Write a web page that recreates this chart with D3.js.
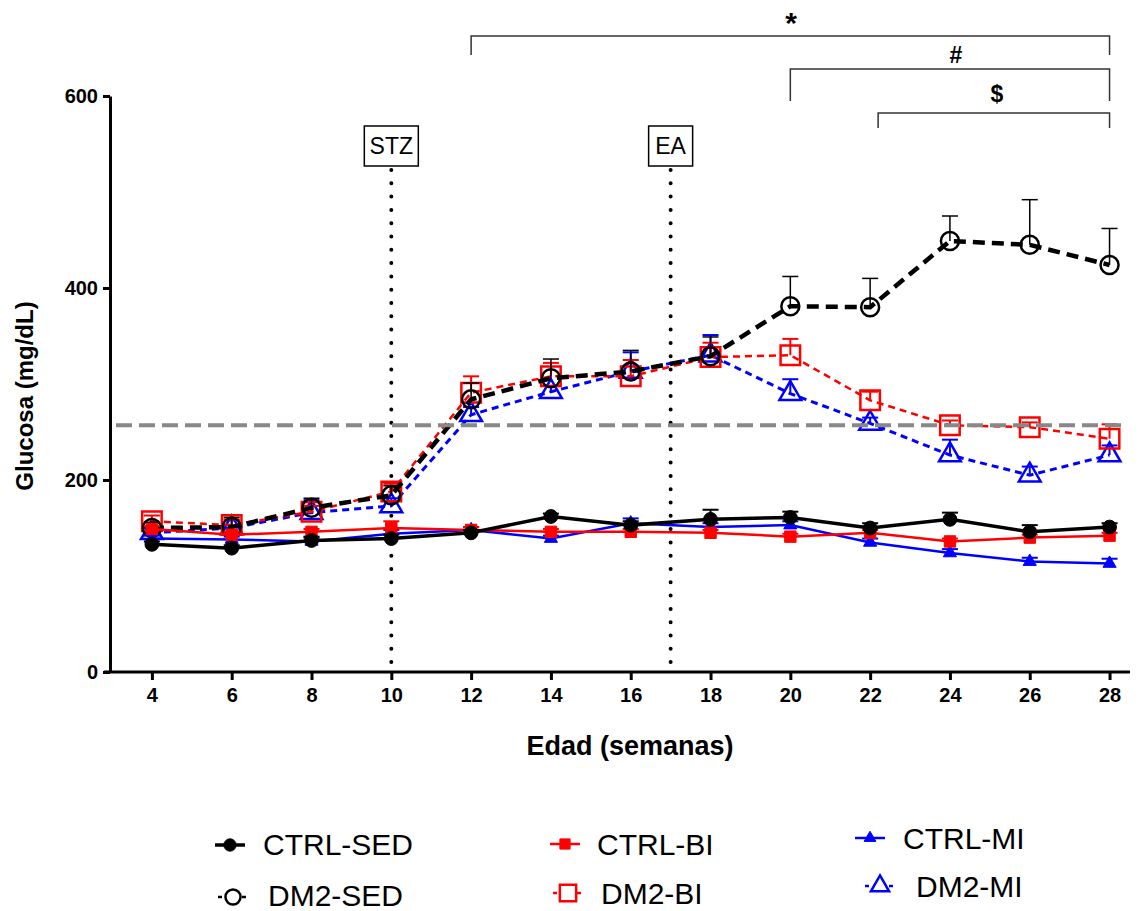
<!DOCTYPE html>
<html>
<head>
<meta charset="utf-8">
<script src="https://cdn.jsdelivr.net/npm/d3@7"></script>
<style>
  body { margin: 0; background: #fff; }
  svg text { font-family: Arial, "Liberation Sans", sans-serif; }
</style>
</head>
<body>
<div id="chart"></div>
<script>
var width = 1141,
    height = 911;

// data (glucose mg/dL, mean and upper error)
var weeks = [4, 6, 8, 10, 12, 14, 16, 18, 20, 22, 24, 26, 28];

var ctrlSed    = [133, 129, 137, 139, 145, 162, 153, 159, 161, 150, 159, 146, 151];
var ctrlSedErr = [3, 3, 4, 4, 3, 3, 4, 10, 6, 5, 7, 7, 4];
var ctrlBi     = [149, 143, 146, 150, 148, 146, 146, 145, 141, 145, 136, 140, 142];
var ctrlBiErr  = [3, 3, 3, 7, 3, 3, 3, 3, 3, 3, 3, 3, 3];
var ctrlMi     = [139, 138, 136, 144, 148, 139, 155, 151, 153, 135, 124, 115, 113];
var ctrlMiErr  = [3, 3, 4, 4, 3, 3, 5, 4, 4, 4, 4, 4, 5];

var dm2Sed    = [150, 151, 171, 184, 284, 306, 313, 329, 381, 380, 449, 445, 424];
var dm2SedErr = [6, 10, 10, 10, 17, 20, 22, 20, 31, 30, 26, 47, 38];
var dm2Bi     = [157, 153, 167, 188, 291, 308, 308, 328, 330, 283, 257, 255, 243];
var dm2BiErr  = [6, 6, 6, 8, 17, 14, 17, 15, 17, 9, 5, 5, 15];
var dm2Mi     = [145, 150, 166, 173, 268, 292, 313, 330, 290, 259, 226, 205, 226];
var dm2MiErr  = [5, 8, 13, 8, 8, 6, 20, 21, 15, 6, 16, 9, 10];

var yTicks = [0, 200, 400, 600];
var threshold = 257;

var eventWeeks = [10, 17];
var eventLabels = ["STZ", "EA"];

var bracketStart = [12, 20, 22.2];
var bracketEnd = [28, 28, 28];
var bracketLabels = ["*", "#", "$"];

var seriesNames = ["DM2-MI", "DM2-BI", "DM2-SED", "CTRL-MI", "CTRL-BI", "CTRL-SED"];

var svg = d3.select("#chart").append("svg")
    .attr("width", width)
    .attr("height", height);

var x = d3.scaleLinear().domain([2.95, 28.5]).range([110, 1129.5]);
var y = d3.scaleLinear().domain([0, 600]).range([672, 96]);

// style per series
var styles = {
    "CTRL-SED": { vals: ctrlSed, err: ctrlSedErr, color: "#000", dash: null, lw: 3.5, sym: d3.symbolCircle, size: 150, fill: true, ew: 2 },
    "CTRL-BI":  { vals: ctrlBi, err: ctrlBiErr, color: "#ff0000", dash: null, lw: 2.5, sym: d3.symbolSquare, size: 130, fill: true, ew: 2 },
    "CTRL-MI":  { vals: ctrlMi, err: ctrlMiErr, color: "#0000ff", dash: null, lw: 2.5, sym: d3.symbolTriangle, size: 75, fill: true, ew: 2 },
    "DM2-SED":  { vals: dm2Sed, err: dm2SedErr, color: "#000", dash: "12,7", lw: 4.5, sym: d3.symbolCircle, size: 254, fill: false, ew: 1.5 },
    "DM2-BI":   { vals: dm2Bi, err: dm2BiErr, color: "#ff0000", dash: "7,5", lw: 2.5, sym: d3.symbolSquare, size: 380, fill: false, ew: 2 },
    "DM2-MI":   { vals: dm2Mi, err: dm2MiErr, color: "#0000ff", dash: "7,5", lw: 3, sym: d3.symbolTriangle, size: 205, fill: false, ew: 2 }
};

// event lines with boxed labels
eventWeeks.forEach(function (w, i) {
    svg.append("line")
        .attr("x1", x(w)).attr("x2", x(w))
        .attr("y1", 170).attr("y2", 672)
        .attr("stroke", "#000")
        .attr("stroke-width", 4)
        .attr("stroke-linecap", "round")
        .attr("stroke-dasharray", "0,13.3");
    var bw = i == 0 ? 54 : 44;
    svg.append("rect")
        .attr("x", x(w) - bw / 2).attr("y", 126)
        .attr("width", bw).attr("height", 40)
        .attr("fill", "#fff").attr("stroke", "#000").attr("stroke-width", 1.5);
    svg.append("text")
        .attr("x", x(w)).attr("y", 154)
        .attr("text-anchor", "middle")
        .style("font-size", "23px")
        .text(eventLabels[i]);
});

var line = d3.line()
    .x(function (d, i) { return x(weeks[i]); })
    .y(function (d) { return y(d); });

seriesNames.forEach(function (name) {
    var s = styles[name];
    var g = svg.append("g");

    // upper error bars
    s.vals.forEach(function (v, i) {
        var xx = x(weeks[i]);
        g.append("line")
            .attr("x1", xx).attr("x2", xx)
            .attr("y1", y(v)).attr("y2", y(v + s.err[i]))
            .attr("stroke", s.color).attr("stroke-width", s.ew);
        g.append("line")
            .attr("x1", xx - 8).attr("x2", xx + 8)
            .attr("y1", y(v + s.err[i])).attr("y2", y(v + s.err[i]))
            .attr("stroke", s.color).attr("stroke-width", s.ew);
    });

    g.append("path")
        .datum(s.vals)
        .attr("d", line)
        .attr("fill", "none")
        .attr("stroke", s.color)
        .attr("stroke-width", s.lw)
        .attr("stroke-dasharray", s.dash);

    g.selectAll(".pt")
        .data(s.vals)
        .enter().append("path")
        .attr("transform", function (d, i) { return "translate(" + x(weeks[i]) + "," + y(d) + ")"; })
        .attr("d", d3.symbol().type(s.sym).size(s.size))
        .attr("fill", s.fill ? s.color : "none")
        .attr("stroke", s.color)
        .attr("stroke-width", s.fill ? 1 : 2.5);
});

// threshold line
svg.append("line")
    .attr("x1", 116).attr("x2", 1126)
    .attr("y1", y(threshold)).attr("y2", y(threshold))
    .attr("stroke", "#888")
    .attr("stroke-width", 4)
    .attr("stroke-dasharray", "16,7");

// axes
var yAxis = svg.append("g")
    .attr("transform", "translate(110,0)")
    .call(d3.axisLeft(y).tickValues(yTicks).tickSize(7).tickSizeOuter(0).tickPadding(5));
yAxis.select(".domain").attr("stroke-width", 3);
yAxis.selectAll(".tick line").attr("stroke-width", 3);
yAxis.selectAll("text").style("font-size", "20px").style("font-weight", "bold");

var xAxis = svg.append("g")
    .attr("transform", "translate(0,672)")
    .call(d3.axisBottom(x).tickValues(weeks).tickSize(8).tickSizeOuter(0).tickPadding(8));
xAxis.select(".domain").remove();
xAxis.append("line")
    .attr("x1", 104).attr("x2", 1130)
    .attr("stroke", "#000").attr("stroke-width", 3);
xAxis.selectAll(".tick line").attr("stroke-width", 3);
xAxis.selectAll("text").style("font-size", "20px").style("font-weight", "bold");

svg.append("text")
    .attr("transform", "translate(33,396) rotate(-90)")
    .attr("text-anchor", "middle")
    .style("font-size", "24px")
    .style("font-weight", "bold")
    .text("Glucosa (mg/dL)");

svg.append("text")
    .attr("x", 630).attr("y", 755)
    .attr("text-anchor", "middle")
    .style("font-size", "27px")
    .style("font-weight", "bold")
    .text("Edad (semanas)");

// significance brackets
var bracketY = [36, 69, 113];
var bracketDrop = [55, 101, 128];
var labelPos = [[791, 33], [956, 63], [997, 102]];
var labelSize = [30, 23, 23];
bracketStart.forEach(function (b, i) {
    var x0 = x(b), x1 = x(bracketEnd[i]);
    svg.append("path")
        .attr("d", "M" + x0 + "," + bracketDrop[i] + "V" + bracketY[i] + "H" + x1 + "V" + bracketDrop[i])
        .attr("fill", "none").attr("stroke", "#333").attr("stroke-width", 1.5);
    svg.append("text")
        .attr("x", labelPos[i][0]).attr("y", labelPos[i][1])
        .attr("text-anchor", "middle")
        .style("font-size", labelSize[i] + "px")
        .style("font-weight", "bold")
        .text(bracketLabels[i]);
});

// legend
var legendOrder = ["CTRL-SED", "CTRL-BI", "CTRL-MI", "DM2-SED", "DM2-BI", "DM2-MI"];
var legendPos = [[230, 845, 263, 855], [565, 844, 597, 855], [870, 838, 903, 849],
                 [233, 897, 268, 906], [568, 893, 601, 904], [880, 886, 916, 897]];
legendOrder.forEach(function (name, i) {
    var s = styles[name], p = legendPos[i];
    var g = svg.append("g");
    g.append("line")
        .attr("x1", p[0] - 15).attr("x2", p[0] + 15)
        .attr("y1", p[1]).attr("y2", p[1])
        .attr("stroke", s.color)
        .attr("stroke-width", s.fill ? s.lw : 2.5)
        .attr("stroke-dasharray", s.fill ? null : "4,4");
    g.append("path")
        .attr("transform", "translate(" + p[0] + "," + p[1] + ")")
        .attr("d", d3.symbol().type(s.sym).size(s.size * (s.fill ? 0.8 : 0.7)))
        .attr("fill", s.fill ? s.color : "#fff")
        .attr("stroke", s.color)
        .attr("stroke-width", s.fill ? 1 : 2.5);
    g.append("text")
        .attr("x", p[2]).attr("y", p[3])
        .style("font-size", "30px")
        .text(name);
});
</script>
</body>
</html>
